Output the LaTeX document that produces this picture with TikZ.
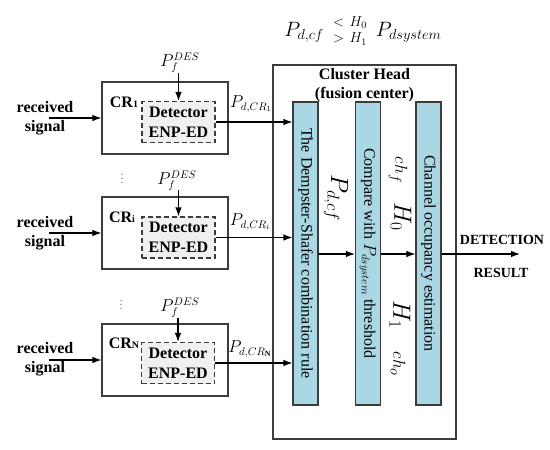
\documentclass[tikz,border=0pt]{standalone}
\usepackage{amsmath}
\usepackage{fontspec}
\setmainfont{Liberation Serif}
\usetikzlibrary{arrows.meta}
\definecolor{barblue}{RGB}{170,215,228}
\definecolor{detgray}{RGB}{240,240,240}
\definecolor{edge}{RGB}{60,60,60}
\tikzset{
  fs/.style={font=\fontsize{#1}{#1}\selectfont},
  crbox/.style={draw=edge, line width=1.2pt, fill=white, minimum width=126pt, minimum height=72pt, inner sep=0pt},
  detbox/.style={draw=edge, dashed, dash pattern=on 5pt off 3pt, line width=1.1pt, fill=detgray, minimum width=73pt, minimum height=41pt, inner sep=0pt, align=center, font=\fontsize{16}{20}\selectfont\bfseries},
  bar/.style={draw=edge, line width=1.1pt, fill=barblue, minimum width=25pt, minimum height=303pt, inner sep=0pt},
  bartext/.style={rotate=-90, font=\fontsize{16}{18}\selectfont, inner sep=0pt},
  lab/.style={inner sep=0pt},
  arr/.style={line width=1.1pt, -{Latex[length=9pt,width=6.5pt]}},
  ln/.style={line width=1.1pt},
}
\begin{document}
\begin{tikzpicture}[x=1pt,y=-1pt]
\useasboundingbox (0,0) rectangle (550,450);
% top formula
\node[lab, fs=20] (formula) at (363,31) {$P_{d,cf}\;\begin{smallmatrix}< & H_0\\[2pt] > & H_1\end{smallmatrix}\;P_{dsystem}$};
% cluster head
\node[draw=edge, line width=1.2pt, minimum width=183pt, minimum height=374pt, inner sep=0pt] (ch) at (364.5,252) {};
\node[lab, font=\fontsize{16}{19}\selectfont\bfseries, align=center] (chlab) at (364.5,85) {Cluster Head\\(fusion center)};
% bars
\node[bar] (bar1) at (305.5,253.5) {};
\node[bar] (bar2) at (368,253.5) {};
\node[bar] (bar3) at (428.5,253.5) {};
\node[bartext] (t1) at (bar1.center) {The Dempster-Shafer combination rule};
\node[bartext] (t2) at (bar2.center) {Compare with $P_{dsystem}$ threshold};
\node[bartext] (t3) at (bar3.center) {Channel occupancy estimation};
% between-bar labels
\node[lab, rotate=-90, fs=24] (pdcf) at (336,198) {$P_{d,cf}$};
\node[lab, rotate=-90, fs=19] (chf) at (398,170) {$ch_f$};
\node[lab, rotate=-90, fs=23] (h0) at (401,217) {$H_0$};
\node[lab, rotate=-90, fs=24] (h1) at (400,315) {$H_1$};
\node[lab, rotate=-90, fs=19] (cho) at (398,364) {$ch_o$};
% bar arrows
\coordinate (a1) at (318,254);
\draw[arr] (a1) -- (bar2.west |- a1);
\draw[arr] (bar2.east |- a1) -- (bar3.west |- a1);
\coordinate (out) at (520,254);
\draw[arr] (bar3.east |- a1) -- (out);
\node[lab, font=\fontsize{14}{16}\selectfont\bfseries] (det) at (502,240) {DETECTION};
\node[lab, font=\fontsize{14}{16}\selectfont\bfseries] (res) at (501,273) {RESULT};
% CR 1
\node[crbox] (cr1) at (165,118) {};
\node[detbox] (d1) at (178.5,122) {Detector\\ENP-ED};
\node[lab, font=\fontsize{16}{18}\selectfont\bfseries] (cr1l) at (124,102) {CR{\fontsize{10}{10}\selectfont 1}};
\node[lab, fs=16] (pf1) at (180,63) {$P_f^{DES}$};
\coordinate (pa1) at (178.5,73);
\draw[arr] (pa1) -- (d1.north);
\node[lab, fs=16] (pd1) at (251,104) {$P_{d,CR_1}$};
\node[lab, align=center, font=\fontsize{16}{19}\selectfont\bfseries] (rs1) at (45,118) {received\\signal};
\coordinate (s1) at (49,118);
\draw[arr] (s1) -- (cr1.west);
\draw[arr] (d1.east) -- (bar1.west |- d1.east);
% dots
\node[lab, text=gray, fs=12] (dots1) at (122,176) {$\vdots$};
% CR i
\node[crbox] (cr2) at (165,233) {};
\node[detbox] (d2) at (178.5,237.5) {Detector\\ENP-ED};
\node[lab, font=\fontsize{16}{18}\selectfont\bfseries] (cr2l) at (122,217) {CR{\fontsize{10}{10}\selectfont i}};
\node[lab, fs=16] (pf2) at (177,181) {$P_f^{DES}$};
\coordinate (pa2) at (178.5,190);
\draw[arr] (pa2) -- (d2.north);
\node[lab, fs=16] (pd2) at (250,222) {$P_{d,CR_i}$};
\node[lab, align=center, font=\fontsize{16}{19}\selectfont\bfseries] (rs2) at (45,233) {received\\signal};
\coordinate (s2) at (49,233);
\draw[arr] (s2) -- (cr2.west);
\draw[arr] (d2.east) -- (bar1.west |- d2.east);
% dots
\node[lab, text=gray, fs=12] (dots2) at (121,302) {$\vdots$};
% CR N
\node[crbox] (cr3) at (165,360) {};
\node[detbox] (d3) at (178,363) {Detector\\ENP-ED};
\node[lab, font=\fontsize{16}{18}\selectfont\bfseries] (cr3l) at (124,343) {CR{\fontsize{10}{10}\selectfont N}};
\node[lab, fs=16] (pf3) at (180,308) {$P_f^{DES}$};
\coordinate (pa3) at (178,318);
\draw[arr] (pa3) -- (d3.north);
\node[lab, fs=16] (pd3) at (250,349) {$P_{d,CR_{\mathbf{N}}}$};
\node[lab, align=center, font=\fontsize{16}{19}\selectfont\bfseries] (rs3) at (45,359) {received\\signal};
\coordinate (s3) at (49,360);
\draw[arr] (s3) -- (cr3.west);
\draw[arr] (d3.east) -- (bar1.west |- d3.east);
\end{tikzpicture}
\end{document}
